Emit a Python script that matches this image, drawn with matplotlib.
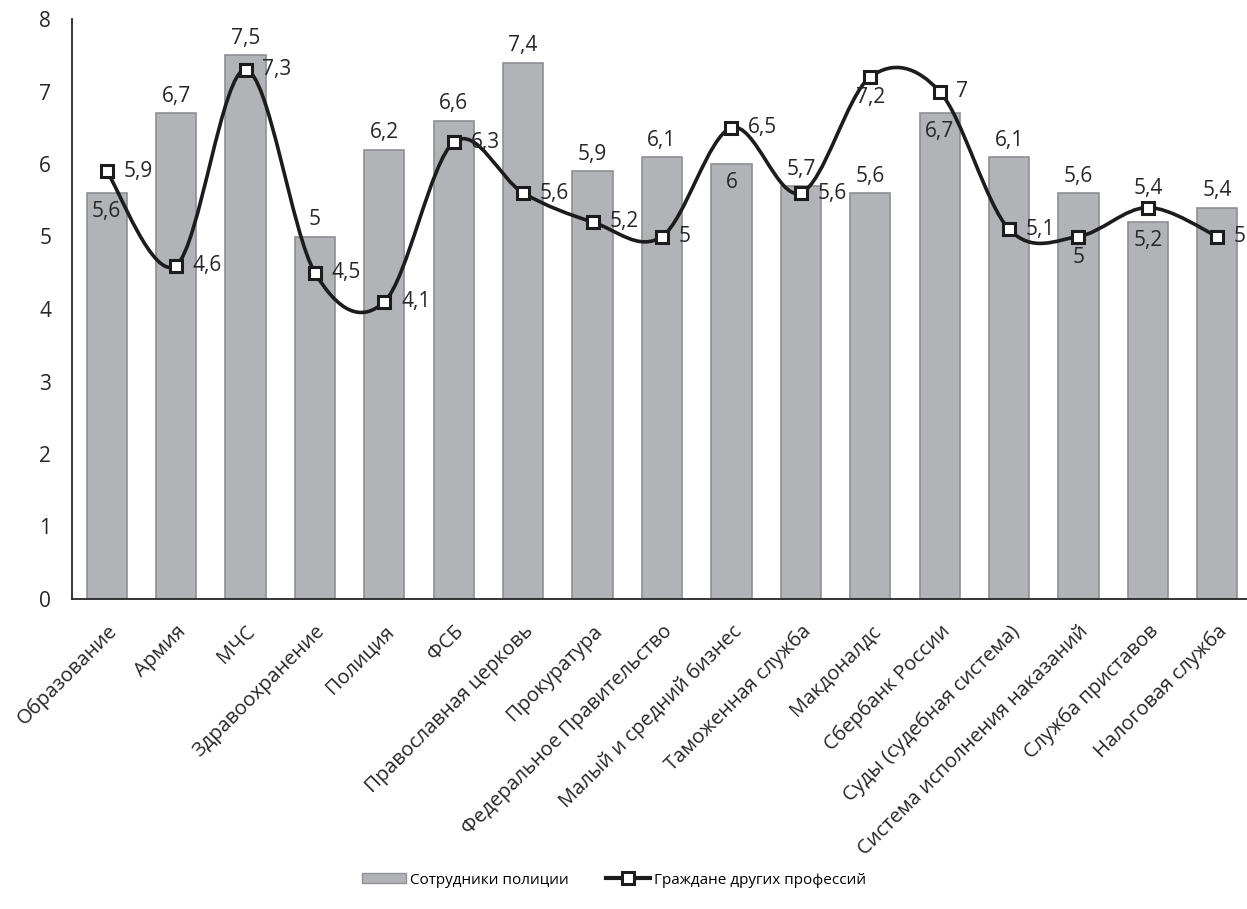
import numpy as np
import matplotlib.pyplot as plt
from matplotlib.path import Path
from matplotlib.patches import PathPatch, Patch
from matplotlib.lines import Line2D

plt.rcParams['font.family'] = ['Open Sans', 'DejaVu Sans']

categories = ['Образование', 'Армия', 'МЧС', 'Здравоохранение', 'Полиция', 'ФСБ',
              'Православная церковь', 'Прокуратура', 'Федеральное Правительство',
              'Малый и средний бизнес', 'Таможенная служба', 'Макдоналдс',
              'Сбербанк России', 'Суды (судебная система)',
              'Система исполнения наказаний', 'Служба приставов', 'Налоговая служба']
police = [5.6, 6.7, 7.5, 5, 6.2, 6.6, 7.4, 5.9, 6.1, 6, 5.7, 5.6, 6.7, 6.1, 5.6, 5.2, 5.4]
others = [5.9, 4.6, 7.3, 4.5, 4.1, 6.3, 5.6, 5.2, 5, 6.5, 5.6, 7.2, 7, 5.1, 5, 5.4, 5]

# label placement
bar_pos = ['in', 'up', 'up', 'up', 'up', 'up', 'up', 'up', 'up', 'in', 'up', 'up', 'in', 'up', 'up', 'in', 'up']
line_pos = ['r', 'r', 'r', 'r', 'r', 'r', 'r', 'r', 'r', 'r', 'r', 'd', 'r', 'r', 'd', 'u', 'r']

def fmt(v):
    return ('%g' % v).replace('.', ',')

fig = plt.figure(figsize=(12.47, 9.09), dpi=100)
ax = fig.add_axes([72/1247, 1-599/909, 1180/1247, 580/909])

x = np.arange(len(categories))
ax.bar(x, police, width=0.58, color='#b2b3b7', edgecolor='#8f9094', linewidth=1.2, zorder=2)

# Excel-like smoothed line (Bezier through the points)
pts = np.column_stack([x, others]).astype(float)
verts = [tuple(pts[0])]
codes = [Path.MOVETO]
n = len(pts)
for i in range(n - 1):
    p0 = pts[i - 1] if i > 0 else pts[i]
    p1 = pts[i]
    p2 = pts[i + 1]
    p3 = pts[i + 2] if i + 2 < n else pts[i + 1]
    c1 = p1 + (p2 - p0) / 6
    c2 = p2 - (p3 - p1) / 6
    verts += [tuple(c1), tuple(c2), tuple(p2)]
    codes += [Path.CURVE4] * 3
ax.add_patch(PathPatch(Path(verts, codes), fill=False, edgecolor='#1c1c1c', lw=2.6, zorder=3))
ax.plot(x, others, linestyle='none', marker='s', ms=9, mfc='white', mec='#1c1c1c', mew=2.2, zorder=4)

for i in range(len(x)):
    dy = 12 if bar_pos[i] == 'up' else -13
    ax.annotate(fmt(police[i]), (x[i], police[i]), xytext=(0, dy), textcoords='offset points',
                ha='center', va='center', fontsize=15, color='#262626', zorder=5)
    if line_pos[i] == 'r':
        off, ha = (12, 0), 'left'
    elif line_pos[i] == 'd':
        off, ha = (0, -15), 'center'
    else:
        off, ha = (0, 14), 'center'
    ax.annotate(fmt(others[i]), (x[i], others[i]), xytext=off, textcoords='offset points',
                ha=ha, va='center', fontsize=15, color='#262626', zorder=5)

ax.set_xlim(-0.5, len(x) - 0.5)
ax.set_ylim(0, 8)
ax.set_yticks(range(0, 9))
ax.tick_params(axis='y', length=0, labelsize=15, pad=15, labelcolor='#262626')
ax.tick_params(axis='x', length=0, labelsize=14.5, labelcolor='#262626', pad=16)
ax.set_xticks(x)
ax.set_xticklabels(categories, rotation=45, ha='right', rotation_mode='anchor')
for s in ['top', 'right']:
    ax.spines[s].set_visible(False)
for s in ['left', 'bottom']:
    ax.spines[s].set_color('#262626')
    ax.spines[s].set_linewidth(1.3)

handles = [Patch(facecolor='#b2b3b7', edgecolor='#8f9094', label='Сотрудники полиции'),
           Line2D([], [], color='#1c1c1c', lw=3, marker='s', ms=8, mfc='white', mec='#1c1c1c', mew=2.2,
                  label='Граждане других профессий')]
fig.legend(handles=handles, loc='center', bbox_to_anchor=(0.4924, 1-880/909), ncol=2, frameon=False,
           fontsize=11, handlelength=2.9, handleheight=0.6, columnspacing=2.4, handletextpad=0.25)

fig.savefig('out.png', dpi=100)
